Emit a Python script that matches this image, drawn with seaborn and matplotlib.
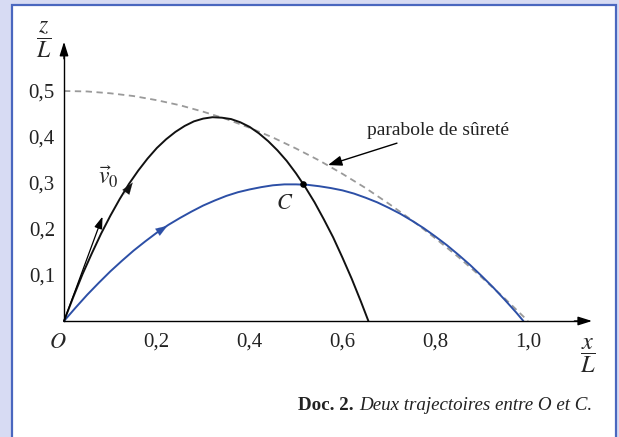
import numpy as np
import pandas as pd
import matplotlib.pyplot as plt
import seaborn as sns
from matplotlib.patches import Rectangle

# values (x/L, z/L)
x_black = [0, 0.02, 0.04, 0.06, 0.08, 0.10, 0.12, 0.14, 0.16, 0.18, 0.20, 0.22, 0.24, 0.26, 0.28,
           0.30, 0.32, 0.34, 0.36, 0.38, 0.40, 0.42, 0.44, 0.46, 0.48, 0.50, 0.52, 0.54, 0.56,
           0.58, 0.60, 0.62, 0.64, 0.656]
z_black = [0, 0.052, 0.102, 0.147, 0.190, 0.229, 0.265, 0.298, 0.327, 0.353, 0.376, 0.395, 0.411,
           0.424, 0.434, 0.440, 0.443, 0.442, 0.439, 0.432, 0.422, 0.408, 0.391, 0.371, 0.348,
           0.321, 0.291, 0.258, 0.221, 0.182, 0.138, 0.092, 0.042, 0]

x_blue = [0, 0.025, 0.05, 0.075, 0.10, 0.125, 0.15, 0.175, 0.20, 0.225, 0.25, 0.275, 0.30, 0.325,
          0.35, 0.375, 0.40, 0.425, 0.45, 0.475, 0.50, 0.525, 0.55, 0.575, 0.60, 0.625, 0.65,
          0.675, 0.70, 0.725, 0.75, 0.775, 0.80, 0.825, 0.85, 0.875, 0.90, 0.925, 0.95, 0.975, 0.99]
z_blue = [0, 0.029, 0.057, 0.083, 0.108, 0.131, 0.153, 0.173, 0.192, 0.209, 0.224, 0.238, 0.251,
          0.262, 0.272, 0.280, 0.286, 0.291, 0.295, 0.297, 0.297, 0.296, 0.293, 0.289, 0.284,
          0.277, 0.268, 0.258, 0.246, 0.233, 0.218, 0.202, 0.184, 0.165, 0.144, 0.122, 0.098,
          0.073, 0.046, 0.018, 0]

x_safe = [0, 0.05, 0.10, 0.15, 0.20, 0.25, 0.30, 0.35, 0.40, 0.45, 0.50, 0.55, 0.60, 0.65, 0.70,
          0.75, 0.80, 0.85, 0.90, 0.95, 1.0]
z_safe = [0.5, 0.499, 0.495, 0.489, 0.48, 0.469, 0.455, 0.439, 0.42, 0.399, 0.375, 0.349, 0.32,
          0.289, 0.255, 0.219, 0.18, 0.139, 0.095, 0.049, 0.0]

point_C = (0.515, 0.297)
v0_tip = (0.083, 0.227)
black_dir = [(0.130, 0.275), (0.148, 0.301)]
blue_dir = [(0.200, 0.192), (0.223, 0.207)]

xticks = [0.2, 0.4, 0.6, 0.8, 1.0]
xtick_labels = ['0,2', '0,4', '0,6', '0,8', '1,0']
yticks = [0.1, 0.2, 0.3, 0.4, 0.5]
ytick_labels = ['0,1', '0,2', '0,3', '0,4', '0,5']

sns.set_theme(style='white')
plt.rcParams['font.family'] = ['Liberation Serif', 'DejaVu Serif']
plt.rcParams['mathtext.fontset'] = 'stix'

W, H = 619, 437
fig = plt.figure(figsize=(W / 100, H / 100), dpi=100, facecolor='#d7dbf3')
panel = Rectangle((11.5 / W, -0.05), (615.5 - 11.5) / W, 1.05 - 4.5 / H,
                  transform=fig.transFigure, facecolor='white', edgecolor='#4a67bf', lw=1.6, zorder=-1)
fig.add_artist(panel)

ax = fig.add_axes([0, 0, 1, 1])
ax.set_facecolor('none')
# origin at pixel (64, 321), 464 px per unit in x, 460 px per unit in z
ax.set_xlim(-64 / 464, (W - 64) / 464)
ax.set_ylim((321 - H) / 460, 321 / 460)

sns.lineplot(x=x_safe, y=z_safe, sort=False, estimator=None, ax=ax,
             color='#9a9a9a', lw=1.3, linestyle=(0, (3.5, 2.5)))
sns.lineplot(x=x_blue, y=z_blue, sort=False, estimator=None, ax=ax, color='#2c4fa6', lw=1.4)
sns.lineplot(x=x_black, y=z_black, sort=False, estimator=None, ax=ax, color='#111111', lw=1.4)
ax.scatter([point_C[0]], [point_C[1]], s=14, color='black', zorder=5)

# axes as arrows
for s in ['top', 'right']:
    ax.spines[s].set_visible(False)
ax.spines['left'].set_position(('data', 0))
ax.spines['bottom'].set_position(('data', 0))
ax.spines['left'].set_bounds(0, 0.59)
ax.spines['bottom'].set_bounds(0, 1.12)
for s in ['left', 'bottom']:
    ax.spines[s].set_color('black')
    ax.spines[s].set_linewidth(1.0)
head = dict(arrowstyle='-|>,head_length=0.7,head_width=0.22', color='black', lw=1.0, shrinkA=0, shrinkB=0)
ax.annotate('', xy=(1.138, 0), xytext=(1.10, 0), arrowprops=head)
ax.annotate('', xy=(0, 0.607), xytext=(0, 0.57), arrowprops=head)

ax.set_xticks(xticks, xtick_labels)
ax.set_yticks(yticks, ytick_labels)
ax.tick_params(axis='both', direction='inout', length=7, width=1, color='black',
               labelsize=15, labelcolor='#222222')
ax.tick_params(axis='x', pad=5)
ax.tick_params(axis='y', pad=3)

# small arrows
ax.annotate('', xy=v0_tip, xytext=(0, 0),
            arrowprops=dict(arrowstyle='-|>,head_length=0.6,head_width=0.2', color='black', lw=0.9,
                            shrinkA=0, shrinkB=0))
small = dict(arrowstyle='-|>,head_length=0.7,head_width=0.25', lw=0.1, shrinkA=0, shrinkB=0)
ax.annotate('', xy=black_dir[1], xytext=black_dir[0], arrowprops=dict(small, color='#111111'))
ax.annotate('', xy=blue_dir[1], xytext=blue_dir[0], arrowprops=dict(small, color='#2c4fa6'))

# labels
ax.text(0.095, 0.313, r'$\vec{v}_0$', fontsize=17, ha='center', va='center')
ax.text(0.476, 0.254, r'$C$', fontsize=16, ha='center', va='center')
ax.text(-0.014, -0.048, r'$O$', fontsize=16, ha='center', va='center')
ax.text(-0.043, 0.612, r'$\dfrac{z}{L}$', fontsize=17, ha='center', va='center')
ax.text(1.129, -0.076, r'$\dfrac{x}{L}$', fontsize=17.5, ha='center', va='center')

ax.annotate('parabole de sûreté', xy=(0.569, 0.339), xytext=(0.653, 0.415),
            fontsize=14, ha='left', va='center', color='#222222',
            arrowprops=dict(arrowstyle='-|>,head_length=0.6,head_width=0.22', color='black', lw=1.0,
                            shrinkA=3, shrinkB=0))

cap = fig.text(592 / W, 1 - 405 / H, 'Deux trajectoires entre O et C.', fontsize=13.7,
               style='italic', ha='right', va='center', color='#222222')
ax.annotate('Doc. 2.', xy=(0, 0.5), xycoords=cap, xytext=(-3.5, 0), textcoords='offset points',
            fontsize=13.7, fontweight='bold', ha='right', va='center', color='#222222')

fig.savefig('out.png', dpi=100, facecolor=fig.get_facecolor())
